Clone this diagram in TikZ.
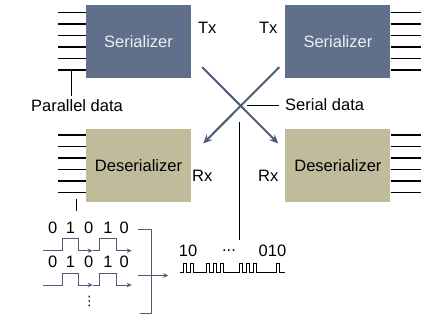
\documentclass[tikz,border=0pt]{standalone}
\usepackage{fontspec}
\setmainfont{Liberation Sans}
\newfontfamily\symfont{DejaVu Sans}
\usetikzlibrary{arrows.meta,calc,positioning}
\definecolor{SlateBox}{RGB}{96,111,138}
\definecolor{SlateLine}{RGB}{76,91,120}
\definecolor{KhakiBox}{RGB}{192,188,155}
\definecolor{BoxText}{RGB}{236,239,243}

\begin{document}
\begin{tikzpicture}[x=1pt,y=-1pt,>=Stealth,font=\fontsize{16.5}{19}\selectfont,
  serbox/.style={fill=SlateBox,text=BoxText,minimum width=105pt,minimum height=73pt,inner sep=0pt},
  desbox/.style={fill=KhakiBox,minimum width=105pt,minimum height=73pt,inner sep=0pt},
  bus/.style={line width=1.6pt},
  thinline/.style={line width=0.9pt},
  xarrow/.style={line width=2pt,SlateLine,-{Stealth[length=9pt,width=8pt,inset=3pt]}},
  wave/.style={line width=0.9pt,SlateLine},
  waveend/.style={wave,-{Stealth[length=5pt,width=4.5pt]}}]
\useasboundingbox (0,0) rectangle (436,329);
% boxes
\node[serbox] (serA) at (138.5,41.5) {Serializer};
\node[serbox,right=94pt of serA] (serB) {Serializer};
\node[desbox,below=50.3pt of serA] (desA) {Deserializer};
\node[desbox,below=50.3pt of serB] (desB) {Deserializer};
\node (txA) at ($(serA.north east)+(16,23)$) {Tx};
\node (txB) at ($(serB.north west)+(-17,23)$) {Tx};
\node (rxA) at ($(desA.north east)+(11,47.5)$) {Rx};
\node (rxB) at ($(desB.north west)+(-17,47.5)$) {Rx};
% parallel buses
\foreach \k in {0,...,5} {
  \draw[bus] ($(serA.north west)+(0,7.7+11.46*\k)$) -- ++(-28,0);
  \draw[bus] ($(serB.north east)+(0,7.7+11.46*\k)$) -- ++(30,0);
  \draw[bus] ($(desA.north west)+(0,6.7+11.46*\k)$) -- ++(-28,0);
  \draw[bus] ($(desB.north east)+(0,6.7+11.46*\k)$) -- ++(30,0);
}
\node (pdata) at (77,106) {Parallel data};
\coordinate (pbus) at (71,70);
\draw[thinline] (pbus) -- (pbus |- pdata.north);
% crossing serial links
\coordinate (xa) at ($(serA.south east)+(11,-11)$);
\coordinate (xb) at ($(serB.south west)+(-6,-11)$);
\coordinate (ya) at ($(desA.north east)+(12,15)$);
\coordinate (yb) at ($(desB.north west)+(-7,15)$);
\draw[xarrow] (xa) -- (yb);
\draw[xarrow] (xb) -- (ya);
\node[anchor=west,inner sep=0pt] (sdata) at (285,105) {Serial data};
\coordinate (xc) at (247,105);
\draw[thinline] (xc) -- ($(sdata.west)+(-6,0)$);
\coordinate (vtop) at (239.3,121.7);
\coordinate (vbot) at (239.3,240);
\draw[thinline] (vtop) -- (vbot);
\coordinate (ltop) at (76,199);
\coordinate (lbot) at (76,211);
\draw[thinline] (ltop) -- (lbot);
% parallel waveforms
\foreach \b/\t [count=\i] in {250.7/228.3,285/262.3} {
  \draw[waveend] (42.7,\b) -| (62.7,\b-12) -| (78.3,\b) -- (92.7,\b);
  \draw[waveend] (92.7,\b) -| (99.3,\b-12) -| (116.7,\b) -- (131.7,\b);
  \foreach \x/\d [count=\j] in {52.7/0,70.5/1,88.8/0,108/1,124.2/0}
    \node (d\i-\j) at (\x,\t) {\d};
}
\node[font=\symfont\fontsize{13}{15}\selectfont] (vdots) at (89.3,301) {⋮};
\coordinate (bra) at (138.3,229.3);
\coordinate (brb) at (140,313.3);
\draw[wave] (bra) -| (151.7,313.3) -- (brb);
\coordinate (bmid) at (138.3,275.5);
\coordinate (sin) at (168.3,275.5);
\draw[waveend] (bmid) -- (sin);
% serial waveform
\node (s10) at (188,251) {10};
\node (sdots) at (229,251) {...};
\node (s010) at (272.5,251) {010};
\draw[line width=0.9pt] (180,272.5)
  \foreach \p in {183,190,206,213,220,239,246,253,276} { -- (\p,272.5) -- ++(0,-9) -- ++(3.5,0) -- ++(0,9) }
  -- (285,272.5);
\end{tikzpicture}
\end{document}
